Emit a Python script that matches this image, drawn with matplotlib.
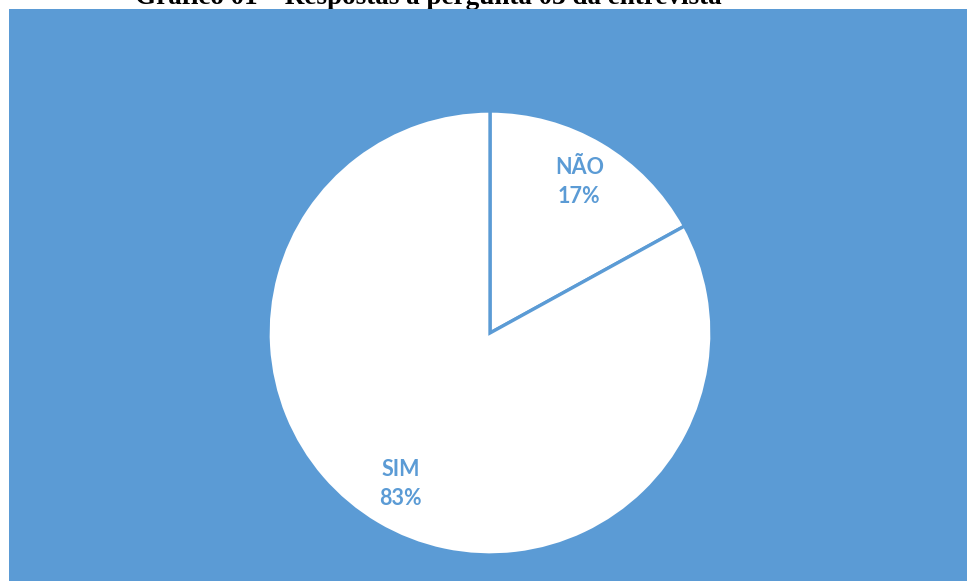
import matplotlib.pyplot as plt

# respostas da pergunta 03
respostas = ["NÃO", "SIM"]
percentuais = [17, 83]

azul = "#5B9BD5"
W, H = 967, 581

fig = plt.figure(figsize=(W / 100, H / 100), dpi=100, facecolor="white")

# fundo azul do gráfico
fundo = fig.add_axes([9 / W, 0, 1 - 9 / W, 1 - 9 / H], zorder=0)
fundo.set_facecolor(azul)
fundo.set_xticks([])
fundo.set_yticks([])
for s in fundo.spines.values():
    s.set_visible(False)

# título (cortado pela área do gráfico)
fig.text(428 / W, 1 - 4 / H, "Gráfico 01 – Respostas à pergunta 03 da entrevista",
         ha="center", va="baseline", fontsize=19.5, fontweight="bold",
         family="Liberation Serif", zorder=-1)

r = 222
ax = fig.add_axes([(490 - r) / W, (H - 333 - r) / H, 2 * r / W, 2 * r / H], zorder=1)

rotulos = [f"{n}\n{p}%" for n, p in zip(respostas, percentuais)]
wedges, texts = ax.pie(percentuais, labels=rotulos, startangle=90, counterclock=False,
                       radius=1, labeldistance=0.79, colors=["white", "white"],
                       wedgeprops=dict(edgecolor=azul, linewidth=2.4),
                       textprops=dict(color=azul, fontsize=15.5, fontweight="bold",
                                      family="Lato", linespacing=1.45))
for t in texts:
    t.set_ha("center")
    t.set_multialignment("center")

ax.set_xlim(-1, 1)
ax.set_ylim(-1, 1)
ax.axis("off")

fig.savefig("out.png", dpi=100, facecolor="white")
